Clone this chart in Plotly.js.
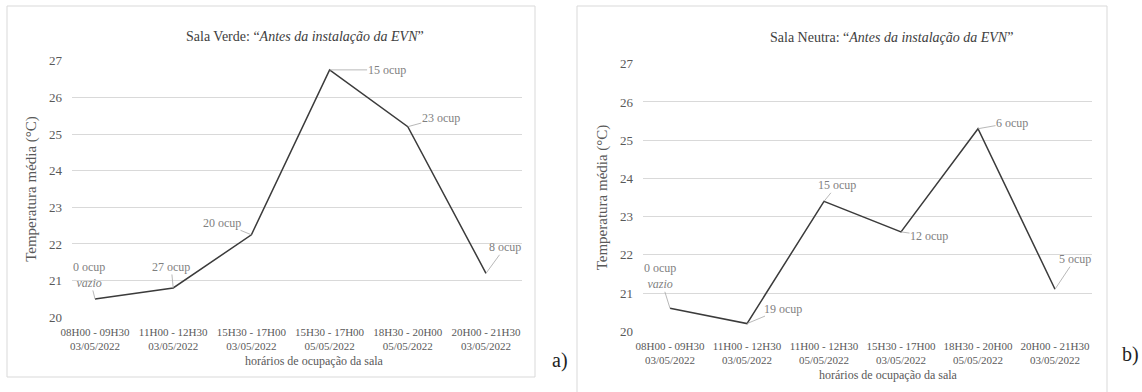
<!DOCTYPE html>
<html>
<head>
<meta charset="utf-8">
<script src="https://cdn.plot.ly/plotly-3.0.1.min.js"></script>
<style>html,body{margin:0;padding:0;background:#fff;}#chart{width:1142px;height:392px;}</style>
</head>
<body>
<div id="chart"></div>
<script>
// ---- data ----
const catsA = ["08H00 - 09H30<br>03/05/2022", "11H00 - 12H30<br>03/05/2022", "15H30 - 17H00<br>03/05/2022", "15H30 - 17H00<br>05/05/2022", "18H30 - 20H00<br>05/05/2022", "20H00 - 21H30<br>03/05/2022"];
const tempA = [20.5, 20.8, 22.25, 26.75, 25.2, 21.2];
const labelsA = ["0 ocup<br><i>vazio</i>", "27 ocup", "20 ocup", "15 ocup", "23 ocup", "8 ocup"];

const catsB = ["08H00 - 09H30<br>03/05/2022", "11H00 - 12H30<br>03/05/2022", "11H00 - 12H30<br>05/05/2022", "15H30 - 17H00<br>03/05/2022", "18H30 - 20H00<br>05/05/2022", "20H00 - 21H30<br>03/05/2022"];
const tempB = [20.6, 20.2, 23.4, 22.6, 25.3, 21.1];
const labelsB = ["0 ocup<br><i>vazio</i>", "19 ocup", "15 ocup", "12 ocup", "6 ocup", "5 ocup"];

const yTicks = [20, 21, 22, 23, 24, 25, 26, 27];

// label offsets (px) for the leader lines
const offA = [[-6, -24], [-2, -21], [-29, -12], [57, 0], [33, -9], [19, -26]];
const offB = [[-10, -32], [36, -15], [13, -16], [28, 4], [34, -6], [20, -30]];

const FONT = "'Liberation Serif', 'DejaVu Serif', serif";
const lineColor = "#3b3b3b";
const gridColor = "#d9d9d9";
const textColor = "#595959";
const labColor = "#7f7f7f";

const traces = [
  {x: catsA, y: tempA, type: "scatter", mode: "lines", xaxis: "x", yaxis: "y",
   line: {color: lineColor, width: 1.5}, hoverinfo: "skip", showlegend: false},
  {x: catsB, y: tempB, type: "scatter", mode: "lines", xaxis: "x2", yaxis: "y2",
   line: {color: lineColor, width: 1.5}, hoverinfo: "skip", showlegend: false}
];

function xax(domain, anchor) {
  return {domain: domain, anchor: anchor, type: "category", showgrid: false, zeroline: false,
    showline: false, ticks: "", ticklabelstandoff: 6, tickfont: {family: FONT, size: 11, color: textColor},
    fixedrange: true, automargin: false};
}
function yax(domain, anchor) {
  return {domain: domain, anchor: anchor, range: [19.98, 27.02], tickvals: yTicks,
    showgrid: true, gridcolor: gridColor, gridwidth: 1, zeroline: false, showline: false,
    ticks: "", ticklabelstandoff: 9, tickfont: {family: FONT, size: 13, color: textColor},
    title: {text: "Temperatura média (°C)", font: {family: FONT, size: 15, color: textColor}, standoff: 8},
    fixedrange: true, automargin: false};
}

const W = 1142, H = 392;
const px = v => v / W, py = v => 1 - v / H;

const annotations = [];
function addLabels(cats, vals, labels, offs, xr, yr) {
  for (let i = 0; i < cats.length; i++) {
    annotations.push({x: cats[i], y: vals[i], xref: xr, yref: yr, text: labels[i],
      showarrow: true, arrowhead: 0, arrowwidth: 0.8, arrowcolor: "#a6a6a6",
      ax: offs[i][0], ay: offs[i][1], standoff: 0, startstandoff: 0,
      font: {family: FONT, size: 12, color: labColor}, borderpad: 0});
  }
}
addLabels(catsA, tempA, labelsA, offA, "x", "y");
addLabels(catsB, tempB, labelsB, offB, "x2", "y2");

function pAnn(x, y, text, size, color) {
  return {xref: "paper", yref: "paper", x: px(x), y: py(y), xanchor: "center", yanchor: "middle",
    text: text, showarrow: false, font: {family: FONT, size: size, color: color}};
}
// panel titles, x-axis titles, panel letters
annotations.push(
  pAnn(305, 37, "Sala Verde: “<i>Antes da instalação da EVN</i>”", 14, "#404040"),
  pAnn(891, 38, "Sala Neutra: “<i>Antes da instalação da EVN</i>”", 14, "#404040"),
  pAnn(314, 361, "horários de ocupação da sala", 12, textColor),
  pAnn(888, 375, "horários de ocupação da sala", 12, textColor),
  pAnn(560, 360, "a)", 20, "#222"),
  pAnn(1130, 354, "b)", 20, "#222")
);

const shapes = [
  {type: "rect", xref: "paper", yref: "paper", x0: px(7), x1: px(535), y0: py(377), y1: py(6),
   line: {color: "#d9d9d9", width: 1}},
  {type: "rect", xref: "paper", yref: "paper", x0: px(577), x1: px(1107), y0: -0.02, y1: py(6),
   line: {color: "#d9d9d9", width: 1}}
];

const layout = {
  width: W, height: H,
  margin: {l: 0, r: 0, t: 0, b: 0, pad: 0},
  paper_bgcolor: "#ffffff", plot_bgcolor: "rgba(0,0,0,0)",
  showlegend: false,
  font: {family: FONT},
  xaxis: xax([px(72), px(522)], "y"),
  yaxis: yax([py(318), py(60)], "x"),
  xaxis2: xax([px(643), px(1092)], "y2"),
  yaxis2: yax([py(332), py(63)], "x2"),
  annotations: annotations,
  shapes: shapes
};

Plotly.newPlot("chart", traces, layout, {displayModeBar: false, staticPlot: true});
</script>
</body>
</html>
